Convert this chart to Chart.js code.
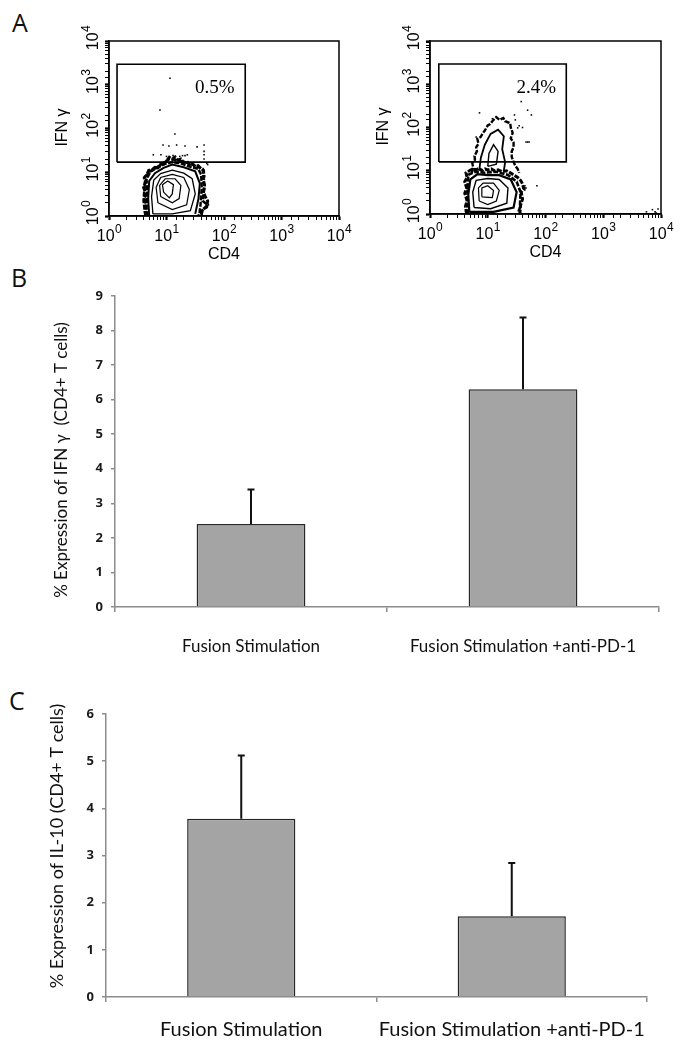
<!DOCTYPE html>
<html>
<head>
<meta charset="utf-8">
<script src="https://cdn.jsdelivr.net/npm/chart.js@4.4.1/dist/chart.umd.min.js"></script>
<style>
  body { margin: 0; background: #fff; }
  #page { position: relative; width: 681px; height: 1049px; overflow: hidden; }
  canvas { position: absolute; }
  .tag { position: absolute; font-family: "Open Sans", sans-serif; font-size: 25px; line-height: 25px; color: #111; }
</style>
</head>
<body>
<div id="page">
  <div class="tag" style="left:12px;top:10px">A</div>
  <div class="tag" style="left:11px;top:265px">B</div>
  <div class="tag" style="left:9px;top:688px">C</div>
  <canvas id="flowL" width="362" height="275" style="left:0;top:0"></canvas>
  <canvas id="flowR" width="341" height="275" style="left:340px;top:0"></canvas>
  <canvas id="barB" width="681" height="380" style="left:0;top:280px"></canvas>
  <canvas id="barC" width="681" height="389" style="left:0;top:660px"></canvas>
</div>
<script>
// ---- panel A: flow plots (log axes) ----
const decades = [1, 10, 100, 1000, 10000];
const decadeExp = ['0', '1', '2', '3', '4'];

const gateLeft = [[1.38, 17], [234, 17], [234, 2950], [1.38, 2950], [1.38, 17]];
const gateRight = [[1.42, 16], [229, 16], [229, 2950], [1.42, 2950], [1.42, 16]];

const contoursLeft = [
  [[4.4, 1], [4.2, 1.4], [4.5, 1.8], [4.1, 2.5], [4.4, 3.2], [4.0, 4.5], [4.3, 6], [4.1, 7.5], [4.6, 9], [4.9, 11], [5.6, 11.5], [6.3, 13], [7.1, 12.6], [7.9, 15], [8.9, 16], [10, 17.8], [11.2, 22], [12.6, 20], [14.1, 22.4], [15.8, 19], [17.8, 20], [20, 16.6], [22.4, 17.8], [25, 15], [28, 15.8], [31.6, 13.5], [35.5, 14.1], [40, 12], [44, 11], [45, 8], [43, 6.3], [46, 5], [44, 3.5], [47, 2.8], [52, 2.2], [50, 1.6], [42, 1.4], [40, 1]],
  [[4.3, 1], [4.0, 2.2], [4.2, 5.6], [4.8, 10], [6.3, 12], [8.3, 15.8], [11.2, 20], [15.8, 19], [22.4, 16.6], [31.6, 14.1], [42.7, 12], [45.7, 5], [42.7, 2.2], [52, 1.8], [40, 1.26], [35.5, 1]],
  [[4.7, 1], [4.5, 1.6], [4.6, 3.5], [4.5, 7], [5.3, 10.5], [7, 12.8], [9.5, 15.5], [12.6, 17], [17.8, 16], [25, 13.5], [35.5, 12], [40, 8.9], [41, 4.5], [39, 1.8], [37, 1]],
  [[5, 1], [4.8, 2.5], [5, 6.3], [6.3, 9.5], [8.9, 12.6], [12.6, 15], [20, 13], [31.6, 10.5], [38, 5.6], [36, 2.5], [31.6, 1.12]],
  [[5.8, 1.12], [5.5, 2.8], [6, 6.6], [7.9, 9.3], [12.6, 11.2], [20, 9.5], [28, 7.1], [31.6, 3.2], [26, 1.32], [12.6, 1.12], [5.8, 1.12]],
  [[7.1, 2], [6.6, 4.5], [7.9, 7.6], [12.6, 8.9], [20, 7.6], [25, 4], [22.4, 1.8], [12.6, 1.4], [7.1, 2]],
  [[7.9, 2.8], [7.6, 5], [9.5, 7.1], [14.1, 7.1], [17.8, 5], [16.6, 2.5], [12.6, 2], [7.9, 2.8]],
  [[8.9, 3.5], [8.5, 5.2], [10.5, 6.3], [13.2, 5.2], [12.6, 3.2], [11.2, 2.6], [8.9, 3.5]]
];
const dotsLeft = [[11.5, 1410], [7.7, 265], [14, 75], [8.7, 42], [11, 40], [15, 42], [21, 40], [34, 38], [45, 42],
  [5.9, 25], [8, 25], [23, 25], [45, 25], [10, 23], [13, 24], [17, 23], [45, 30], [45, 20], [19, 24], [21, 24], [50, 16], [52, 15]];

const contoursRight = [
  [[4.3, 1], [4.1, 1.5], [4.4, 2], [4, 3], [4.3, 4], [4, 5.6], [4.4, 7], [4.2, 8.9], [4.8, 10], [5.5, 11], [6.3, 10.5], [7, 11.5], [8, 10], [9, 11], [10, 10.5], [11.5, 11], [13, 10], [15, 10.5], [18, 9.5], [21, 10], [25, 8.9], [28, 8], [33, 7], [37, 6], [40, 5], [42, 3.8], [38, 3.2], [40, 2.2], [37, 1.6], [36, 1]],
  [[4.6, 1], [4.4, 2], [4.5, 4.5], [4.6, 8], [6, 9.5], [8.9, 9], [14.1, 9.5], [22.4, 8], [31.6, 5.6], [37, 3.2], [36, 1.4], [33, 1]],
  [[4.8, 1.12], [4.6, 2.8], [5, 6.3], [6.6, 8.3], [10, 7.9], [15.8, 7.9], [25, 6.3], [31.6, 3.2], [28, 1.41], [12.6, 1.12], [4.8, 1.12]],
  [[5.8, 1.41], [5.5, 3.2], [6.3, 6], [10, 6.6], [15.8, 6.3], [22.4, 4], [21.4, 1.78], [11.2, 1.32], [5.8, 1.41]],
  [[7.1, 2], [6.9, 4], [8.3, 5.2], [12.6, 5.2], [15.8, 3.5], [14.1, 2], [10, 1.66], [7.1, 2]],
  [[7.9, 2.5], [7.9, 4], [10, 4.5], [12.6, 3.5], [12, 2.4], [7.9, 2.5]],
  [[5.3, 9], [5.6, 12], [5.4, 15], [6, 18], [5.9, 22], [6.5, 28], [6.3, 35], [6.9, 42], [6.6, 55], [7.5, 60], [8.3, 75], [8.9, 85], [10, 112], [11, 120], [12, 140], [14, 174], [16, 150], [18.6, 166], [20, 140], [24.5, 126], [25, 100], [27, 75], [25, 56], [28, 45], [28, 35], [26, 28], [26, 21], [28, 16], [30, 13], [33, 11], [35, 8.9]],
  [[7.1, 10], [7.6, 20], [8.9, 40], [11.2, 71], [15.1, 89], [19, 63], [17.8, 31.6], [20, 15.8], [19, 10]],
  [[10, 12.6], [10.5, 25], [12.6, 40], [15.1, 28], [14.1, 14.1], [10, 12.6]]
];
const dotsRight = [[7.2, 218], [38, 398], [57, 195], [49, 251], [29, 195], [33, 98], [40, 100], [46, 46], [49, 46], [52, 46],
  [71, 4.5], [44, 4], [42, 4], [46, 4], [44, 3.6], [44, 4.5], [30, 150], [22, 130], [35, 110], [6.3, 60], [12, 160],
  [5600, 1.12], [7100, 1.26], [7900, 1.12], [8900, 1.3], [8300, 1.05]];

// line weights for the contour rings (outer rings are the dense, noisy ones)
const widthsLeft = [3, 2.6, 2.4, 2, 1.3, 1.2, 1.2, 1.2];
const widthsRight = [3, 2.6, 2.2, 1.4, 1.2, 1.2, 2.4, 1.8, 1.4];

// ---- panels B and C: bar charts ----
const categories = ['Fusion Stimulation', 'Fusion Stimulation +anti-PD-1'];
const ifnMeans = [2.4, 6.3];
const ifnErr = [1.0, 2.07];
const il10Means = [3.78, 1.71];
const il10Err = [1.34, 1.13];

const pairs = pts => pts.map(([x, y]) => ({ x, y }));

function drawPow(ctx, cx, cy, exp) {
  ctx.font = '16px "Liberation Sans"';
  const w1 = ctx.measureText('10').width;
  ctx.font = '12px "Liberation Sans"';
  const w2 = ctx.measureText(exp).width;
  const left = cx - (w1 + w2) / 2;
  ctx.textAlign = 'left';
  ctx.textBaseline = 'middle';
  ctx.font = '16px "Liberation Sans"';
  ctx.fillText('10', left, cy);
  ctx.font = '12px "Liberation Sans"';
  ctx.fillText(exp, left + w1 + 0.5, cy - 7);
}

const flowDecor = {
  id: 'flowDecor',
  afterDraw(chart, args, opts) {
    const { ctx, chartArea: a, scales: { x, y } } = chart;
    ctx.save();
    ctx.strokeStyle = '#000';
    ctx.lineWidth = 1.5;
    ctx.strokeRect(a.left, a.top, a.right - a.left, a.bottom - a.top);
    ctx.fillStyle = '#000';
    decades.forEach((v, i) => {
      drawPow(ctx, x.getPixelForValue(v), a.bottom + 21, decadeExp[i]);
      ctx.save();
      ctx.translate(a.left - 15, y.getPixelForValue(v) - 3);
      ctx.rotate(-Math.PI / 2);
      drawPow(ctx, 0, 0, decadeExp[i]);
      ctx.restore();
    });
    ctx.font = '16px "Liberation Sans"';
    ctx.textAlign = 'center';
    ctx.textBaseline = 'middle';
    ctx.fillText('CD4', (a.left + a.right) / 2, a.bottom + 39);
    ctx.save();
    ctx.translate(a.left - 46, (a.top + a.bottom) / 2 - 1);
    ctx.rotate(-Math.PI / 2);
    ctx.fillText('IFN γ', 0, 0);
    ctx.restore();
    ctx.font = '19px "Liberation Serif"';
    ctx.fillText(opts.pct.text, x.getPixelForValue(opts.pct.x), y.getPixelForValue(opts.pct.y));
    ctx.restore();
  }
};

function logAxis(size, isX) {
  return {
    type: 'logarithmic',
    min: 1,
    max: 10000,
    ticks: { display: false, autoSkip: false },
    grid: {
      drawOnChartArea: false, drawTicks: true, tickLength: 4, tickColor: '#000',
      tickWidth: c => decades.includes(c.tick.value) ? 2.2 : 1
    },
    border: { color: '#000', width: 1.5 },
    afterFit: s => { if (isX) s.height = size; else s.width = size; }
  };
}

function flowChart(id, contours, widths, gate, dots, pct, frame) {
  const sets = contours.map((pts, i) => ({
    data: pairs(pts), showLine: true, borderColor: '#000', borderWidth: widths[i], pointRadius: 0,
    borderDash: widths[i] >= 2.4 ? [5, 1.5] : []
  }));
  sets.push({ data: pairs(gate), showLine: true, borderColor: '#000', borderWidth: 1.6, pointRadius: 0 });
  sets.push({ data: pairs(dots), showLine: false, pointStyle: 'rect', pointRadius: 1.1, backgroundColor: '#000', borderColor: '#000', borderWidth: 0 });
  new Chart(document.getElementById(id), {
    type: 'scatter',
    data: { datasets: sets },
    options: {
      responsive: false,
      animation: false,
      layout: { padding: { top: frame.top, right: frame.right, left: 0, bottom: 0 } },
      plugins: { legend: { display: false }, tooltip: { enabled: false }, flowDecor: { pct } },
      scales: { x: logAxis(frame.xh, true), y: logAxis(frame.yw, false) }
    },
    plugins: [flowDecor]
  });
}

// error bars (upper only) and rotated y titles
const errBars = {
  id: 'errBars',
  afterDatasetsDraw(chart, args, opts) {
    const { ctx, scales: { y } } = chart;
    const vals = chart.data.datasets[0].data;
    ctx.save();
    ctx.strokeStyle = '#111';
    ctx.lineWidth = 2;
    chart.getDatasetMeta(0).data.forEach((bar, i) => {
      const top = y.getPixelForValue(vals[i] + opts.errors[i]);
      ctx.beginPath();
      ctx.moveTo(bar.x, bar.y);
      ctx.lineTo(bar.x, top);
      ctx.moveTo(bar.x - 3.5, top);
      ctx.lineTo(bar.x + 3.5, top);
      ctx.stroke();
    });
    ctx.restore();
  }
};

const sideTitle = {
  id: 'sideTitle',
  afterDraw(chart, args, opts) {
    const ctx = chart.ctx;
    ctx.save();
    ctx.translate(opts.x, opts.y);
    ctx.rotate(-Math.PI / 2);
    ctx.font = opts.size + 'px Lato';
    ctx.fillStyle = '#111';
    ctx.textAlign = 'center';
    ctx.textBaseline = 'middle';
    ctx.fillText(opts.text, 0, 0);
    ctx.restore();
  }
};

function barChart(id, means, errs, yMax, title, frame) {
  const axisGray = '#8c8c8c';
  new Chart(document.getElementById(id), {
    type: 'bar',
    data: {
      labels: categories,
      datasets: [{
        data: means, backgroundColor: '#a4a4a4', borderColor: '#262626', borderWidth: 1.5,
        barPercentage: 1, categoryPercentage: 0.4
      }]
    },
    options: {
      responsive: false,
      animation: false,
      layout: { padding: { top: frame.top, right: frame.right, left: 0, bottom: 0 } },
      plugins: {
        legend: { display: false }, tooltip: { enabled: false },
        errBars: { errors: errs },
        sideTitle: { text: title, x: frame.tx, y: frame.ty, size: frame.tsize }
      },
      scales: {
        x: {
          grid: { offset: true, drawOnChartArea: false, tickLength: 5, color: axisGray, lineWidth: 1.5 },
          border: { color: axisGray, width: 1.5 },
          ticks: {
            color: '#111', font: { family: 'Lato', size: frame.lsize }, padding: frame.lpad,
            autoSkip: false, minRotation: 0, maxRotation: 0
          },
          afterFit: s => { s.height = frame.xh; }
        },
        y: {
          min: 0, max: yMax,
          ticks: { stepSize: 1, color: '#1a1a1a', font: { family: '"Open Sans"', weight: 'bold', size: 13 }, padding: 8 },
          grid: { drawOnChartArea: false, tickLength: 4, color: axisGray, lineWidth: 1.5 },
          border: { color: axisGray, width: 1.5 },
          afterFit: s => { s.width = frame.yw; }
        }
      }
    },
    plugins: [errBars, sideTitle]
  });
}

function drawAll() {
  flowChart('flowL', contoursLeft, widthsLeft, gateLeft, dotsLeft, { x: 69, y: 850, text: '0.5%' }, { top: 41, right: 23, xh: 59, yw: 109 });
  flowChart('flowR', contoursRight, widthsRight, gateRight, dotsRight, { x: 69, y: 820, text: '2.4%' }, { top: 41, right: 20, xh: 61, yw: 90 });
  barChart('barB', ifnMeans, ifnErr, 9, '% Expression of IFN γ  (CD4+ T cells)',
    { top: 13, right: 22, xh: 53, yw: 115, lsize: 17, lpad: 24, tx: 62, ty: 180, tsize: 17 });
  barChart('barC', il10Means, il10Err, 6, '% Expression of IL-10 (CD4+ T cells)',
    { top: 54, right: 34, xh: 52, yw: 106, lsize: 20, lpad: 16, tx: 57, ty: 186, tsize: 18 });
}

Promise.all([
  document.fonts.load('17px Lato'),
  document.fonts.load('bold 13px "Open Sans"'),
  document.fonts.load('16px "Liberation Sans"'),
  document.fonts.load('19px "Liberation Serif"')
]).then(drawAll, drawAll);
</script>
</body>
</html>
